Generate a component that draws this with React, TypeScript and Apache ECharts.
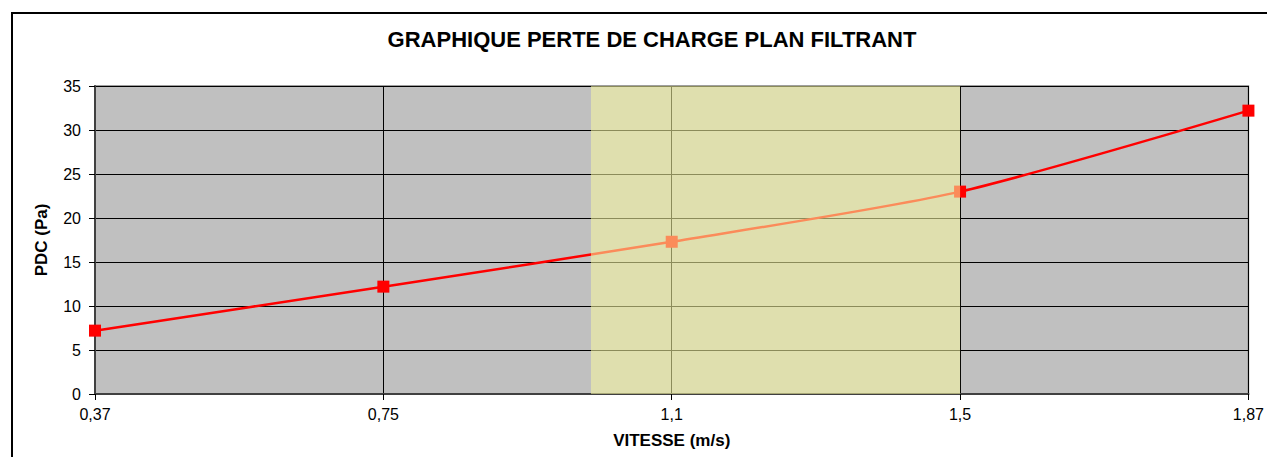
import React, { useEffect, useRef } from "react";
import * as echarts from "echarts";

const categories = ["0,37", "0,75", "1,1", "1,5", "1,87"];
const pdcValues = [7.2, 12.2, 17.3, 23.0, 32.2];
const zoneStart = 1.72; // ≈ 1,0 m/s between "0,75" and "1,1"
const zoneEnd = 3; // "1,5"
const yMin = 0;
const yMax = 35;
const yStep = 5;

export default function App() {
  const ref = useRef<HTMLDivElement>(null);
  useEffect(() => {
    if (!ref.current) return;
    const chart = echarts.init(ref.current, undefined, { renderer: "svg" });
    const font = "'Liberation Sans', Arial, sans-serif";
    chart.setOption({
      animation: false,
      textStyle: { fontFamily: font },
      title: {
        text: "GRAPHIQUE PERTE DE CHARGE PLAN FILTRANT",
        left: 647,
        top: 23,
        textAlign: "center",
        textStyle: { fontSize: 22, fontWeight: "bold", color: "#000", fontFamily: font },
      },
      graphic: [
        {
          type: "line",
          shape: { x1: 12, y1: 13, x2: 1267, y2: 13 },
          style: { stroke: "#000", lineWidth: 2 },
          silent: true,
        },
        {
          type: "line",
          shape: { x1: 12, y1: 12, x2: 12, y2: 457 },
          style: { stroke: "#000", lineWidth: 2 },
          silent: true,
        },
      ],
      grid: {
        left: 95,
        right: 18,
        top: 86,
        bottom: 63,
        show: true,
        backgroundColor: "#C0C0C0",
        borderColor: "#808080",
        borderWidth: 1.5,
      },
      xAxis: {
        type: "value",
        min: 0,
        max: categories.length - 1,
        interval: 1,
        name: "VITESSE (m/s)",
        nameLocation: "middle",
        nameGap: 38,
        nameTextStyle: { fontSize: 17, fontWeight: "bold", color: "#000", fontFamily: font },
        axisLine: { show: true, lineStyle: { color: "#404040", width: 2 } },
        axisTick: { show: true, length: 6, inside: false, lineStyle: { color: "#000" } },
        axisLabel: {
          fontSize: 16,
          color: "#000",
          margin: 12,
          fontFamily: font,
          formatter: (v: number) => categories[Math.round(v)] ?? "",
        },
        splitLine: { show: true, lineStyle: { color: "#000", width: 1 } },
      },
      yAxis: {
        type: "value",
        min: yMin,
        max: yMax,
        interval: yStep,
        name: "PDC (Pa)",
        nameLocation: "middle",
        nameGap: 45,
        nameRotate: 90,
        nameTextStyle: { fontSize: 17, fontWeight: "bold", color: "#000", fontFamily: font },
        axisLine: { show: true, lineStyle: { color: "#404040", width: 2 } },
        axisTick: { show: true, length: 6, lineStyle: { color: "#000" } },
        axisLabel: { fontSize: 16, color: "#000", margin: 14, fontFamily: font },
        splitLine: { show: true, lineStyle: { color: "#000", width: 1 } },
      },
      series: [
        {
          type: "line",
          data: pdcValues.map((v, i) => [i, v]),
          smooth: 0.25,
          symbol: "rect",
          symbolSize: 12,
          lineStyle: { color: "#FF0000", width: 2.5 },
          itemStyle: { color: "#FF0000" },
          z: 2,
        },
        {
          type: "custom",
          z: 20,
          silent: true,
          data: [[zoneStart, zoneEnd]],
          renderItem: (params: any, api: any) => {
            const p0 = api.coord([api.value(0), yMax]);
            const p1 = api.coord([api.value(1), yMin]);
            return {
              type: "rect",
              shape: { x: p0[0], y: p0[1], width: p1[0] - p0[0], height: p1[1] - p0[1] },
              style: { fill: "rgba(248,248,160,0.56)" },
            };
          },
        },
      ],
    });
    return () => chart.dispose();
  }, []);
  return (
    <div
      ref={ref}
      style={{ position: "fixed", left: 0, top: 0, width: 1267, height: 457, background: "#fff" }}
    />
  );
}
